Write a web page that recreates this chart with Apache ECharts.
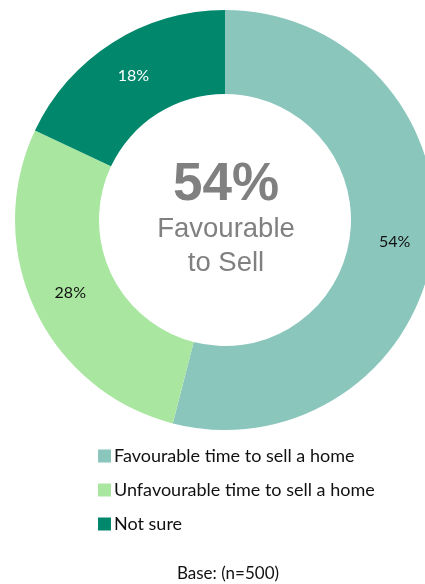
<!DOCTYPE html>
<html>
<head>
<meta charset="utf-8">
<script src="https://cdn.jsdelivr.net/npm/echarts@6/dist/echarts.min.js"></script>
<style>
    html, body {margin: 0; padding: 0; background: #fff;}
    #chart {width: 425px; height: 584px;}
</style>
</head>
<body>
<div id="chart"></div>
<script>
// 数据
var categories = ['Favourable time to sell a home', 'Unfavourable time to sell a home', 'Not sure'];
var values = [54, 28, 18];
var colors = ['#8AC6BC', '#A9E6A0', '#00876C'];
var labelColors = ['#111111', '#111111', '#ffffff'];
var centerValue = '54%';
var centerLines = ['Favourable', 'to Sell'];
var baseNote = 'Base: (n=500)';

var chart = echarts.init(document.getElementById('chart'), null, {renderer: 'canvas'});

var pieData = categories.map(function(name, i) {
    return {
        name: name,
        value: values[i],
        itemStyle: {color: colors[i]},
        label: {color: labelColors[i]}
    };
});

var option = {
    animation: false,
    backgroundColor: '#fff',
    legend: {
        orient: 'vertical',
        left: 93,
        top: 442,
        icon: 'rect',
        itemWidth: 13,
        itemHeight: 13,
        itemGap: 16,
        selectedMode: false,
        textStyle: {
            fontFamily: 'Lato',
            fontSize: 18,
            lineHeight: 18,
            color: '#111',
            padding: [0, 0, 0, -2]
        },
        data: categories
    },
    graphic: [
        {
            type: 'text',
            x: 226,
            y: 159,
            style: {text: centerValue, font: 'bold 53px "Liberation Sans"', fill: '#808080', textAlign: 'center'}
        },
        {
            type: 'text',
            x: 226,
            y: 212,
            style: {text: centerLines.join('\n'), font: '27.5px "Liberation Sans"', fill: '#808080', textAlign: 'center', lineHeight: 34}
        },
        {
            type: 'text',
            x: 228,
            y: 565,
            style: {text: baseNote, font: '17px Lato', fill: '#111', textAlign: 'center'}
        }
    ],
    series: [{
        type: 'pie',
        center: [225, 220],
        radius: [126, 210],
        startAngle: 90,
        clockwise: true,
        avoidLabelOverlap: false,
        silent: true,
        itemStyle: {borderWidth: 0},
        label: {
            show: true,
            position: 'inside',
            fontFamily: 'Lato',
            fontSize: 16,
            formatter: '{c}%'
        },
        labelLine: {show: false},
        data: pieData
    }]
};

chart.setOption(option);
</script>
</body>
</html>
